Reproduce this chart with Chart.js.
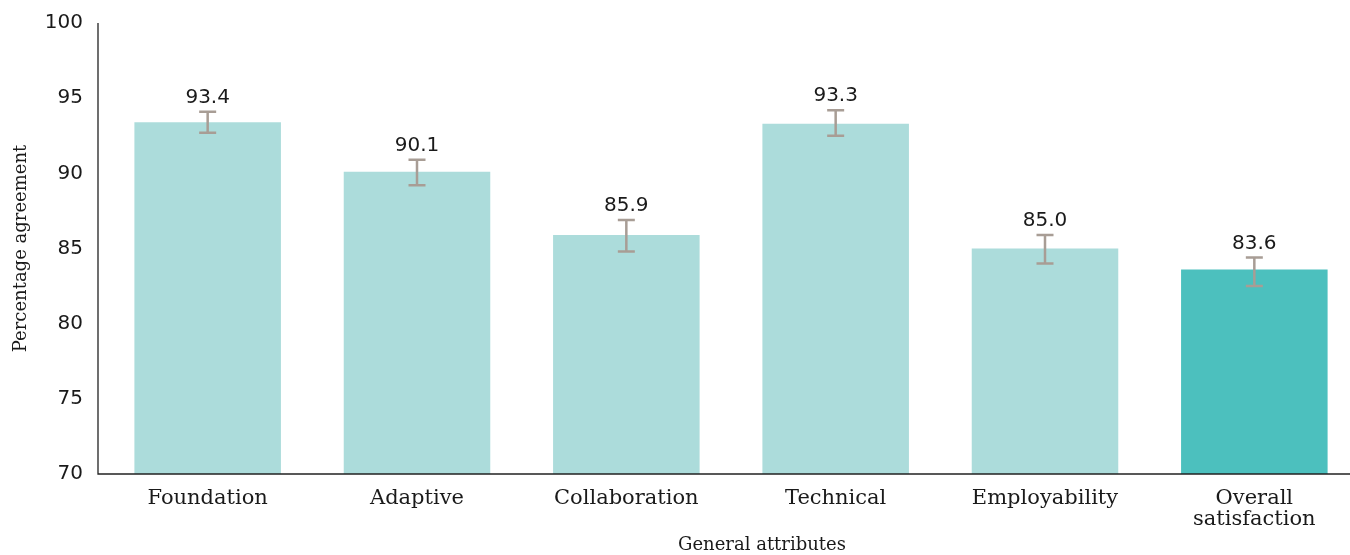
<!DOCTYPE html>
<html>
<head>
<meta charset="utf-8">
<script src="https://cdn.jsdelivr.net/npm/chart.js@4/dist/chart.umd.min.js"></script>
<style>
html,body{margin:0;padding:0;background:#fff;overflow:hidden;}
#wrap{position:relative;width:1359px;height:555px;}
</style>
</head>
<body>
<div id="wrap"><canvas id="attrchart"></canvas></div>
<script>
// data
const categories=['Foundation','Adaptive','Collaboration','Technical','Employability',['Overall','satisfaction']];
const agreement=[93.4,90.1,85.9,93.3,85.0,83.6];
const errLow=[92.7,89.2,84.8,92.5,84.0,82.5];
const errHigh=[94.1,90.9,86.9,94.2,85.9,84.4];
const yTicks=[70,75,80,85,90,95,100];

const barColors=agreement.map((v,i)=>i===agreement.length-1?'#4cc0be':'#acdcdb');

const sansFont='"DejaVu Sans", sans-serif';
const slabFont='"DejaVu Serif", serif';

// draws axis lines, error bars, value labels and the x title
const extras={
    id:'extras',
    afterDatasetsDraw(chart){
        const ctx=chart.ctx;
        const y=chart.scales.y;
        const area=chart.chartArea;
        ctx.save();
        ctx.strokeStyle='#222';
        ctx.lineWidth=1.3;
        ctx.beginPath();
        ctx.moveTo(98,area.top);
        ctx.lineTo(98,area.bottom);
        ctx.lineTo(area.right,area.bottom);
        ctx.stroke();

        const meta=chart.getDatasetMeta(0);
        meta.data.forEach((bar,i)=>{
            const cx=bar.x;
            const top=y.getPixelForValue(errHigh[i]);
            const bot=y.getPixelForValue(errLow[i]);
            ctx.strokeStyle='#a89d95';
            ctx.lineWidth=2.5;
            ctx.beginPath();
            ctx.moveTo(cx,top);ctx.lineTo(cx,bot);
            ctx.moveTo(cx-8.5,top);ctx.lineTo(cx+8.5,top);
            ctx.moveTo(cx-8.5,bot);ctx.lineTo(cx+8.5,bot);
            ctx.stroke();

            ctx.fillStyle='#1a1a1a';
            ctx.font='20px '+sansFont;
            ctx.textAlign='center';
            ctx.textBaseline='bottom';
            ctx.fillText(agreement[i].toFixed(1),cx,top-4);
        });

        ctx.fillStyle='#1a1a1a';
        ctx.font='18px '+slabFont;
        ctx.textAlign='center';
        ctx.textBaseline='middle';
        ctx.fillText('General attributes',762,545);
        ctx.restore();
    }
};

const chart=new Chart(document.getElementById('attrchart'),{
    type:'bar',
    data:{
        labels:categories,
        datasets:[{
            data:agreement,
            backgroundColor:barColors,
            barPercentage:0.7,
            categoryPercentage:1.0
        }]
    },
    options:{
        responsive:true,
        maintainAspectRatio:false,
        animation:false,
        layout:{padding:{top:23,right:0,bottom:0,left:0}},
        plugins:{legend:{display:false},tooltip:{enabled:false}},
        scales:{
            x:{
                grid:{display:false,drawTicks:false},
                border:{display:false},
                ticks:{
                    color:'#1a1a1a',
                    font:{family:slabFont,size:21,lineHeight:1.0},
                    padding:14,
                    maxRotation:0,
                    autoSkip:false
                },
                afterFit(scale){scale.height=81;scale.paddingLeft=0;scale.paddingRight=0;}
            },
            y:{
                min:70,
                max:100,
                grid:{display:false,drawTicks:false},
                border:{display:false},
                afterBuildTicks(scale){scale.ticks=yTicks.map(v=>({value:v}));},
                ticks:{
                    color:'#1a1a1a',
                    font:{family:sansFont,size:20},
                    padding:20
                },
                title:{
                    display:true,
                    text:'Percentage agreement',
                    color:'#1a1a1a',
                    font:{family:slabFont,size:18},
                    padding:{top:11,bottom:0}
                },
                afterFit(scale){scale.width=103;scale.paddingTop=0;scale.paddingBottom=0;}
            }
        }
    },
    plugins:[extras]
});
</script>
</body>
</html>
